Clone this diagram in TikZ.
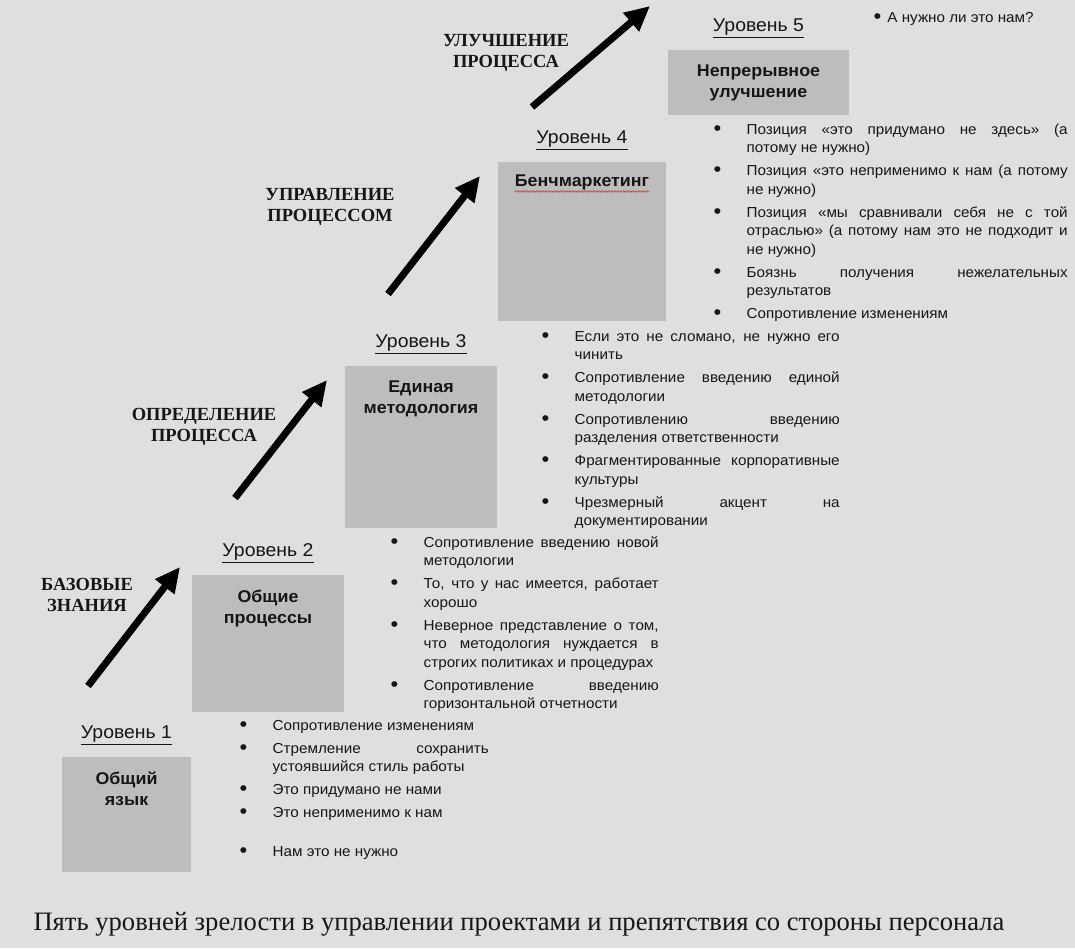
\documentclass[tikz,border=0pt]{standalone}
\usepackage{fontspec}
\setmainfont{Liberation Serif}
\setsansfont{Liberation Sans}[FakeStretch=1.05]
\usetikzlibrary{arrows.meta,positioning,decorations.pathmorphing}

\definecolor{paper}{RGB}{223,223,223}
\definecolor{boxgray}{RGB}{189,189,189}
\definecolor{ink}{RGB}{22,22,22}
\definecolor{spell}{RGB}{205,45,45}

\newlength\bulw
\setlength\bulw{33pt}
\newlength\bulgap
\setlength\bulgap{4.5pt}
\newcommand{\bigdot}{\raisebox{-1.2pt}{\scalebox{1.45}{\textbullet}}}
\newcommand{\bulfirst}{\hangindent=\bulw\hangafter=1\noindent\makebox[\bulw][l]{\bigdot}}
\newcommand{\bul}{\par\addvspace{\bulgap}\bulfirst}

\begin{document}
\begin{tikzpicture}[x=1pt,y=-1pt,
                    climb/.style={line width=7pt,-{Triangle[length=25pt,width=23pt]}},
                    lvlbox/.style={fill=boxgray,inner sep=0pt}]
  \tikzstyle{every node}=[text=ink]
  \tikzstyle{boxtitle}=[font=\sffamily\bfseries\fontsize{17}{21}\selectfont,align=center,inner sep=0pt]
  \tikzstyle{lvl}=[font=\sffamily\fontsize{18.5}{22}\selectfont,inner sep=0pt]
  \tikzstyle{stage}=[font=\rmfamily\bfseries\fontsize{18.5}{20.5}\selectfont,align=center,inner sep=0pt]
  \tikzstyle{obst}=[font=\sffamily\fontsize{14.5}{18.5}\selectfont,inner sep=0pt,anchor=base west,align=justify]

  \fill[paper] (0,0) rectangle (1075,948);
  \useasboundingbox (0,0) rectangle (1075,948);

  % the five levels
  \node[lvlbox,minimum width=129pt,minimum height=115pt] (b1) at (126.5,814.5) {};
  \node[lvlbox,minimum width=152pt,minimum height=137pt] (b2) at (268,643.5) {};
  \node[lvlbox,minimum width=152pt,minimum height=162pt] (b3) at (421,447) {};
  \node[lvlbox,minimum width=168pt,minimum height=159pt] (b4) at (582,241.5) {};
  \node[lvlbox,minimum width=181pt,minimum height=65pt]  (b5) at (758.5,82.5) {};

  \node[boxtitle,below=15pt of b1.north] (t1) {Общий\\язык};
  \node[boxtitle,below=15pt of b2.north] (t2) {Общие\\процессы};
  \node[boxtitle,below=15pt of b3.north] (t3) {Единая\\методология};
  \node[boxtitle,below=13pt of b4.north] (t4) {Бенчмаркетинг};
  \node[boxtitle,below=15pt of b5.north] (t5) {Непрерывное\\улучшение};
  \draw[spell,line width=0.6pt,decorate,decoration={snake,amplitude=0.8pt,segment length=3pt}]
    ([yshift=-1pt]t4.south west) -- ([yshift=-1pt]t4.south east);

  \node[lvl,above=12pt of b1] (l1) {\underline{Уровень 1}};
  \node[lvl,above=12pt of b2] (l2) {\underline{Уровень 2}};
  \node[lvl,above=12pt of b3] (l3) {\underline{Уровень 3}};
  \node[lvl,above=12pt of b4] (l4) {\underline{Уровень 4}};
  \node[lvl,above=12pt of b5] (l5) {\underline{Уровень 5}};

  % steps between levels
  \node[stage] (s1) at (87,595)  {БАЗОВЫЕ\\ЗНАНИЯ};
  \node[stage] (s2) at (204,427) {ОПРЕДЕЛЕНИЕ\\ПРОЦЕССА};
  \node[stage] (s3) at (330,207) {УПРАВЛЕНИЕ\\ПРОЦЕССОМ};
  \node[stage] (s4) at (506,53)  {УЛУЧШЕНИЕ\\ПРОЦЕССА};

  \coordinate (a1) at (88,686);  \coordinate (h1) at (180,567);
  \coordinate (a2) at (235,498); \coordinate (h2) at (327,380);
  \coordinate (a3) at (388,294); \coordinate (h3) at (480,176);
  \coordinate (a4) at (532,107); \coordinate (h4) at (650,6);
  \draw[climb] (a1) -- (h1);
  \draw[climb] (a2) -- (h2);
  \draw[climb] (a3) -- (h3);
  \draw[climb] (a4) -- (h4);

  % obstacles from the staff
  \node[obst,text width=249pt] (o1) at (239.5,730) {%
    \bulfirst Сопротивление изменениям
    \bul Стремление сохранить\linebreak устоявшийся стиль работы
    \bul Это придумано не нами
    \bul Это неприменимо к нам
    \par\vspace{16pt}
    \bul Нам это не нужно\par};
  \node[obst,text width=268pt] (o2) at (390.5,547) {%
    \bulfirst Сопротивление введению новой\linebreak методологии
    \bul То, что у нас имеется, работает\linebreak хорошо
    \bul Неверное представление о том,\linebreak что методология нуждается в\linebreak строгих политиках и процедурах
    \bul Сопротивление введению\linebreak горизонтальной отчетности\par};
  \node[obst,text width=298pt] (o3) at (541.5,341) {%
    \bulfirst Если это не сломано, не нужно его\linebreak чинить
    \bul Сопротивление введению единой\linebreak методологии
    \bul Сопротивлению введению\linebreak разделения ответственности
    \bul Фрагментированные корпоративные\linebreak культуры
    \bul Чрезмерный акцент на\linebreak документировании\par};
  \node[obst,text width=354pt] (o4) at (713.5,134) {%
    \bulfirst Позиция «это придумано не здесь» (а\linebreak потому не нужно)
    \bul Позиция «это неприменимо к нам (а потому\linebreak не нужно)
    \bul Позиция «мы сравнивали себя не с той\linebreak отраслью» (а потому нам это не подходит и\linebreak не нужно)
    \bul Боязнь получения нежелательных\linebreak результатов
    \bul Сопротивление изменениям\par};
  \node[obst,align=left,font=\sffamily\fontsize{14.5}{17}\selectfont] (o5) at (873.5,22)
    {\bigdot\hspace{6pt}А нужно ли это нам?};

  \node[font=\rmfamily\fontsize{26.6}{30}\selectfont,anchor=base] (cap) at (519,930)
    {Пять уровней зрелости в управлении проектами и препятствия со стороны персонала};
\end{tikzpicture}
\end{document}
